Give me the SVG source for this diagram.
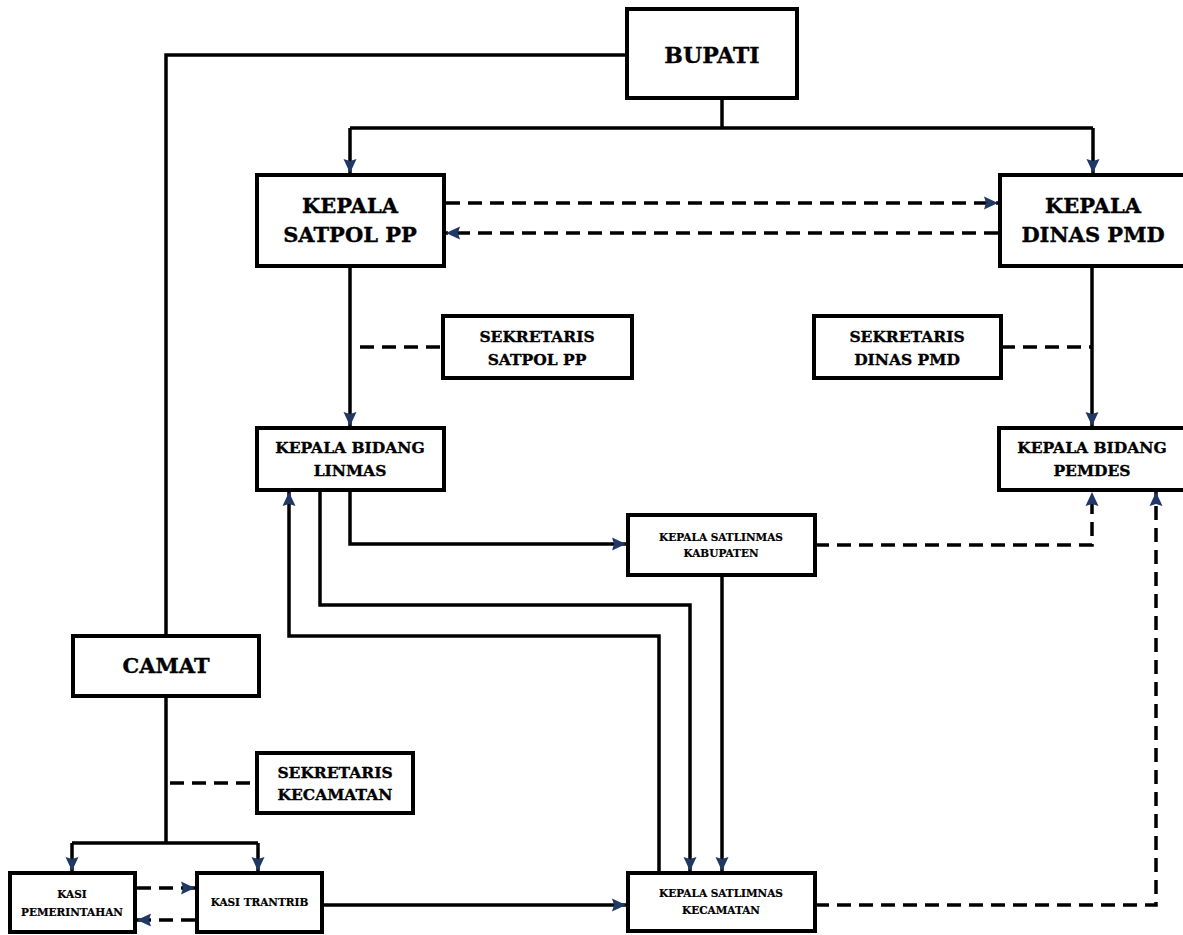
<svg xmlns="http://www.w3.org/2000/svg" width="1183" height="935" viewBox="0 0 1183 935">
<defs>
<marker id="arr" markerUnits="userSpaceOnUse" markerWidth="16" markerHeight="14" refX="14" refY="7" orient="auto">
<path d="M0,0.5 L14,7 L0,13.5 L2,7 Z" fill="#1f3864"/>
</marker>
<style>
.box{fill:#fff;stroke:#000;stroke-width:4}
.ln{fill:none;stroke:#000;stroke-width:3.5}
.ds{fill:none;stroke:#000;stroke-width:3.5;stroke-dasharray:14 8}
.a{marker-end:url(#arr)}
text{font-family:"DejaVu Serif","Liberation Serif",serif;font-weight:bold;fill:#000;stroke:#000;stroke-width:0.35;text-anchor:middle}
.t1{font-size:21px}
.t2{font-size:15.5px}
.t3{font-size:10.5px;stroke-width:0.2}
</style>
</defs>
<rect width="1183" height="935" fill="#fff"/>
<g id="connectors">
<path class="ln" d="M627,55 H166 V636"/>
<path class="ln" d="M722,98 V128"/>
<path class="ln" d="M350,128 H1093"/>
<path class="ln a" d="M350,128 V173"/>
<path class="ln a" d="M1093,128 V173"/>
<path class="ln a" d="M350,266 V426"/>
<path class="ln a" d="M1092,266 V426"/>
<path class="ln a" d="M350,490 V544 H626"/>
<path class="ln a" d="M320,490 V605 H690 V871"/>
<path class="ln a" d="M659,873 V636 H289 V492"/>
<path class="ln a" d="M722,575 V871"/>
<path class="ln" d="M166,696 V843"/>
<path class="ln" d="M72,843 H258"/>
<path class="ln a" d="M72,843 V871"/>
<path class="ln a" d="M258,843 V871"/>
<path class="ln a" d="M322,905 H626"/>
<path class="ds a" d="M446,203 H998"/>
<path class="ds a" d="M998,233 H446"/>
<path class="ds" d="M360,347 H443"/>
<path class="ds" d="M1001,347 H1092"/>
<path class="ds a" d="M815,545 H1092 V492"/>
<path class="ds a" d="M815,905 H1156 V492"/>
<path class="ds" d="M170,783 H257"/>
<path class="ds a" d="M137,888 H195"/>
<path class="ds a" d="M195,920 H137"/>
</g>
<g id="bupati"><rect class="box" x="627" y="9" width="170" height="89"/><text class="t1" x="712" y="63" style="font-size:22px">BUPATI</text></g>
<g id="kepala-satpol"><rect class="box" x="257" y="175" width="187" height="91"/><text class="t1" x="350" y="213">KEPALA</text><text class="t1" x="350" y="242">SATPOL PP</text></g>
<g id="kepala-dinas"><rect class="box" x="1000" y="175" width="188" height="91"/><text class="t1" x="1093" y="213">KEPALA</text><text class="t1" x="1093" y="242">DINAS PMD</text></g>
<g id="sekretaris-satpol"><rect class="box" x="443" y="316" width="189" height="62"/><text class="t2" x="537" y="342">SEKRETARIS</text><text class="t2" x="537" y="365">SATPOL PP</text></g>
<g id="sekretaris-dinas"><rect class="box" x="814" y="316" width="187" height="62"/><text class="t2" x="907" y="342">SEKRETARIS</text><text class="t2" x="907" y="365">DINAS PMD</text></g>
<g id="bidang-linmas"><rect class="box" x="257" y="428" width="187" height="62"/><text class="t2" x="350" y="453">KEPALA BIDANG</text><text class="t2" x="350" y="476">LINMAS</text></g>
<g id="bidang-pemdes"><rect class="box" x="999" y="428" width="189" height="62"/><text class="t2" x="1092" y="453">KEPALA BIDANG</text><text class="t2" x="1092" y="476">PEMDES</text></g>
<g id="satlinmas-kab"><rect class="box" x="628" y="515" width="187" height="60"/><text class="t3" x="721" y="541">KEPALA SATLINMAS</text><text class="t3" x="721" y="557">KABUPATEN</text></g>
<g id="camat"><rect class="box" x="73" y="636" width="186" height="60"/><text class="t1" x="166" y="673">CAMAT</text></g>
<g id="sekretaris-kec"><rect class="box" x="257" y="753" width="156" height="60"/><text class="t2" x="335" y="778">SEKRETARIS</text><text class="t2" x="335" y="800">KECAMATAN</text></g>
<g id="kasi-pemerintahan"><rect class="box" x="10" y="873" width="125" height="59"/><text class="t3" x="72" y="898">KASI</text><text class="t3" x="72" y="916">PEMERINTAHAN</text></g>
<g id="kasi-trantrib"><rect class="box" x="197" y="873" width="125" height="59"/><text class="t3" x="259.5" y="906">KASI TRANTRIB</text></g>
<g id="satlinmas-kec"><rect class="box" x="628" y="873" width="187" height="58"/><text class="t3" x="721" y="897">KEPALA SATLIMNAS</text><text class="t3" x="721" y="914">KECAMATAN</text></g>
</svg>
